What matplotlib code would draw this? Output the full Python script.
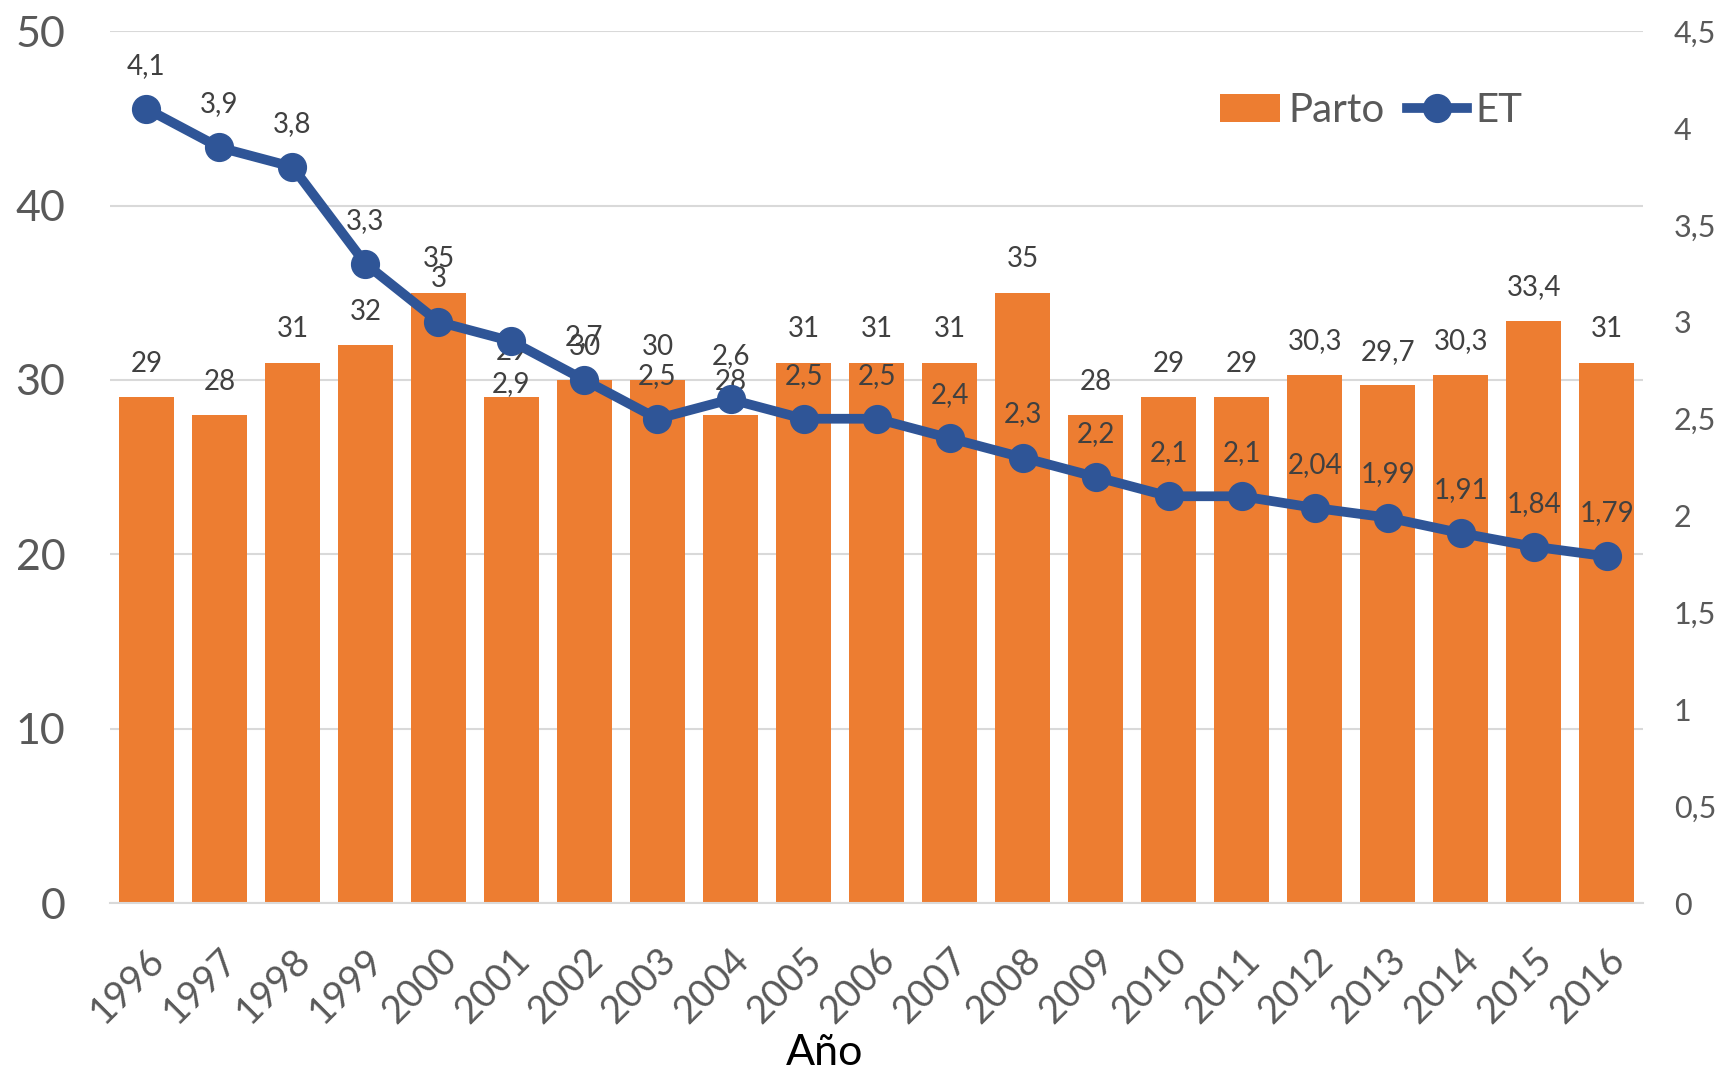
import matplotlib
matplotlib.use("Agg")
import matplotlib.pyplot as plt
from matplotlib.lines import Line2D
from matplotlib.patches import Patch

years = [str(y) for y in range(1996, 2017)]
parto = [29, 28, 31, 32, 35, 29, 30, 30, 28, 31, 31, 31, 35, 28, 29, 29, 30.3, 29.7, 30.3, 33.4, 31]
et = [4.1, 3.9, 3.8, 3.3, 3, 2.9, 2.7, 2.5, 2.6, 2.5, 2.5, 2.4, 2.3, 2.2, 2.1, 2.1, 2.04, 1.99, 1.91, 1.84, 1.79]
left_ticks = [0, 10, 20, 30, 40, 50]
right_ticks = [0, 0.5, 1, 1.5, 2, 2.5, 3, 3.5, 4, 4.5]

def fmt(v):
    s = ("%g" % v)
    return s.replace(".", ",")

plt.rcParams['font.family'] = ['Lato', 'DejaVu Sans']

ORANGE = "#ED7D31"
BLUE = "#2F5597"
GRAY = "#595959"
LBL = "#404040"

fig = plt.figure(figsize=(17.17, 10.74), dpi=100)
ax = fig.add_axes([0.064, 0.159, 0.893, 0.812])
x = list(range(len(years)))
ax.bar(x, parto, width=0.76, color=ORANGE, zorder=2)
ax.set_xlim(-0.5, len(years) - 0.5)
ax.set_ylim(0, 50)
ax.set_yticks(left_ticks)
ax.set_yticklabels([str(t) for t in left_ticks], fontsize=31, color=GRAY)
ax.grid(axis='y', color="#D9D9D9", linewidth=1.5, zorder=0)
ax.set_axisbelow(True)
for s in ['top', 'right', 'left']:
    ax.spines[s].set_visible(False)
ax.spines['bottom'].set_color("#D9D9D9")
ax.spines['bottom'].set_linewidth(1.5)
ax.tick_params(axis='both', length=0)
ax.tick_params(axis='y', pad=32)
ax.set_xticks(x)
ax.set_xticklabels(years, rotation=45, ha='right', rotation_mode='anchor', fontsize=27.5, color=GRAY)
ax.tick_params(axis='x', pad=28)
fig.text(825 / 1717, 1 - 1053 / 1074, "Año", fontsize=31, color="black", ha='center', va='center')

for i, v in enumerate(parto):
    off = 33 if i == 5 else 24
    ax.annotate(fmt(v), (i, v), xytext=(0, off), textcoords='offset points',
                ha='center', va='center', fontsize=20, color=LBL, zorder=5)

ax2 = ax.twinx()
ax2.set_ylim(0, 4.5)
ax2.plot(x, et, color=BLUE, linewidth=7, marker='o', markersize=20, zorder=4,
         solid_capstyle='round')
ax2.set_yticks(right_ticks)
ax2.set_yticklabels([fmt(t) for t in right_ticks], fontsize=22, color=GRAY)
ax2.tick_params(axis='y', length=0, pad=22)
for s in ['top', 'right', 'left', 'bottom']:
    ax2.spines[s].set_visible(False)
for i, v in enumerate(et):
    off = -31 if i == 5 else 31
    ax2.annotate(fmt(v), (i, v), xytext=(0, off), textcoords='offset points',
                 ha='center', va='center', fontsize=20, color=LBL, zorder=6)

handles = [Patch(facecolor=ORANGE, edgecolor='none'),
           Line2D([0], [0], color=BLUE, linewidth=7, marker='o', markersize=20)]
leg = ax2.legend(handles, ["Parto", "ET"], loc='center right', bbox_to_anchor=(0.921, 0.909),
                 ncol=2, frameon=False, fontsize=29, handlelength=1.5, handletextpad=0.2,
                 columnspacing=0.55, labelcolor=GRAY, borderpad=0, borderaxespad=0)

fig.savefig("out.png", dpi=100)
